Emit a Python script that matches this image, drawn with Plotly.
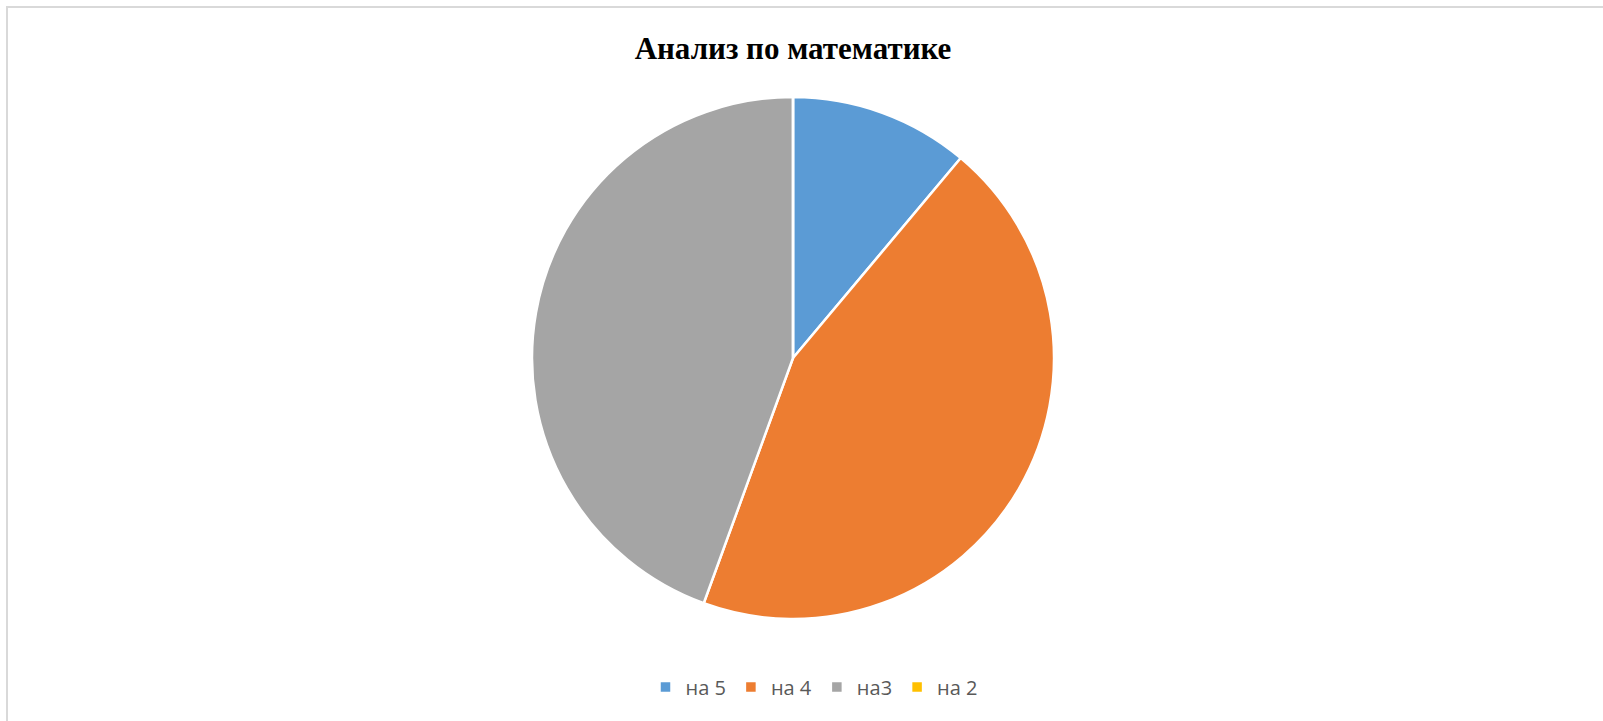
import plotly.graph_objects as go

labels = ["на 5", "на 4", "на3", "на 2"]
values = [1, 4, 4, 0]
colors = ["#5B9BD5", "#ED7D31", "#A5A5A5", "#FFC000"]
title = "Анализ по математике"

W, H = 1603, 721
cx, cy, r = 793, 358, 261

fig = go.Figure(go.Pie(
    labels=labels, values=values, sort=False, direction="clockwise", rotation=0,
    marker=dict(colors=colors, line=dict(color="white", width=2.5)),
    textinfo="none", hoverinfo="label+value+percent",
    domain=dict(x=[(cx - r) / W, (cx + r) / W], y=[1 - (cy + r) / H, 1 - (cy - r) / H]),
))

fig.update_layout(
    width=W, height=H, margin=dict(l=0, r=0, t=0, b=0),
    paper_bgcolor="white", plot_bgcolor="white",
    title=dict(text=f"<b>{title}</b>", x=cx / W, xanchor="center", y=1 - 48 / H, yanchor="middle",
               font=dict(family="Liberation Serif", size=31, color="black")),
    legend=dict(orientation="h", x=814 / W, xanchor="center", y=1 - 687 / H, yanchor="middle",
                font=dict(family="Open Sans", size=20, color="#595959"), itemclick=False,
                itemwidth=30),
    shapes=[dict(type="rect", xref="paper", yref="paper", x0=7 / W, x1=1.02, y0=-0.02, y1=1 - 7 / H,
                 line=dict(color="#D9D9D9", width=2), fillcolor="rgba(0,0,0,0)", layer="below")],
)

fig.write_html(
    "out.html",
    config={"displayModeBar": False},
    post_script="document.body.style.margin='0';document.body.style.overflow='hidden';",
)
